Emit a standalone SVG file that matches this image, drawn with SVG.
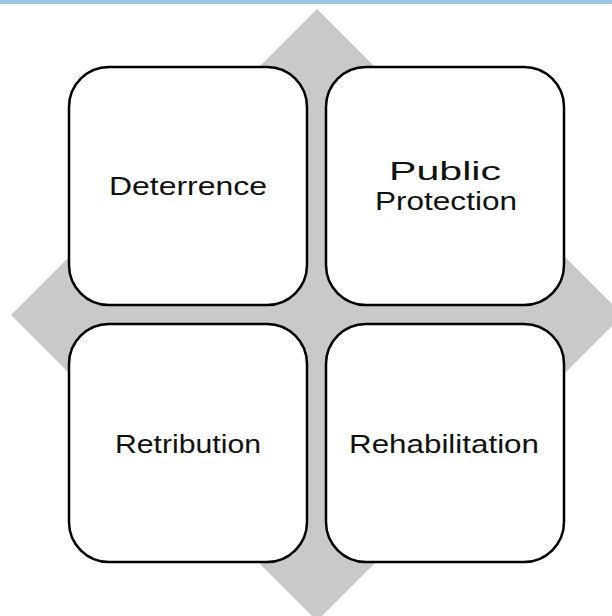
<svg xmlns="http://www.w3.org/2000/svg" width="612" height="616" viewBox="0 0 612 616">
<style>
.box{fill:#fff;stroke:#000;stroke-width:2.5}
.lbl{font-family:"Liberation Sans","DejaVu Sans",sans-serif;font-size:26px;fill:#111;text-anchor:middle}
</style>
<rect x="0" y="0" width="612" height="616" fill="#fff"/>
<rect x="0" y="0" width="612" height="4" fill="#9DC3E6"/>
<polygon points="317,9 623,315 317,621 11,315" fill="#C9C9C9"/>
<g id="deterrence">
<rect class="box" x="69" y="67" width="238" height="238" rx="40" ry="40"/>
<text class="lbl" x="188" y="195" textLength="158" lengthAdjust="spacingAndGlyphs">Deterrence</text>
</g>
<g id="public-protection">
<rect class="box" x="326" y="67" width="238" height="238" rx="40" ry="40"/>
<text class="lbl" x="445" y="180" textLength="112" lengthAdjust="spacingAndGlyphs">Public</text>
<text class="lbl" x="446" y="210" textLength="142" lengthAdjust="spacingAndGlyphs">Protection</text>
</g>
<g id="retribution">
<rect class="box" x="69" y="324" width="238" height="238" rx="40" ry="40"/>
<text class="lbl" x="188" y="453" textLength="146" lengthAdjust="spacingAndGlyphs">Retribution</text>
</g>
<g id="rehabilitation">
<rect class="box" x="326" y="324" width="238" height="238" rx="40" ry="40"/>
<text class="lbl" x="444" y="453" textLength="190" lengthAdjust="spacingAndGlyphs">Rehabilitation</text>
</g>
<g id="connectors"></g>
</svg>
